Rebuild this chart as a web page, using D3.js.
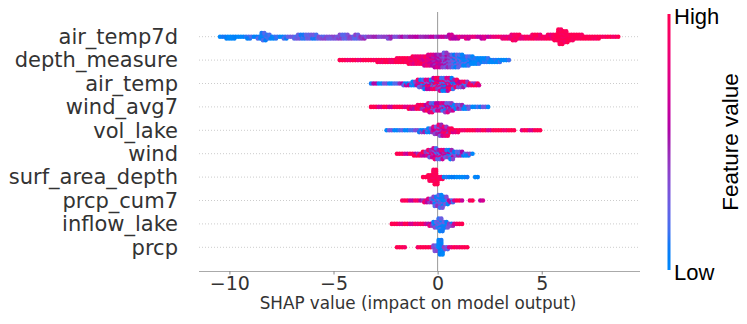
<!DOCTYPE html>
<html>
<head>
<meta charset="utf-8">
<script src="https://cdn.jsdelivr.net/npm/d3@7"></script>
<style>
  body { margin: 0; background: #fff; }
  text { font-family: "DejaVu Sans", sans-serif; }
</style>
</head>
<body>
<svg id="chart"></svg>
<script>
const width = 747;
const height = 324;

// features, top to bottom
const features = ['air_temp7d', 'depth_measure', 'air_temp', 'wind_avg7', 'vol_lake',
  'wind', 'surf_area_depth', 'prcp_cum7', 'inflow_lake', 'prcp'];

// SHAP values are binned in steps of 0.25, first bin of each feature:
const binWidth = 0.25;
const binStart = [-10.5, -4.75, -3.25, -3.25, -2.5, -2.0, -0.75, -1.75, -2.25, -2.0];

const binCounts = [
  [1,2,2,1,1,2,1,2,5,3,2,1,2,1,2,3,3,3,3,2,2,2,2,3,3,2,3,2,1,
   1,1,1,2,1,1,1,1,1,1,1,1,1,
   1,1,3,2,1,2,1,1,2,1,1,1,2,2,4,3,2,2,3,3,2,3,4,9,7,4,3,3,2,2,2,1,1,1,1],
  [1,1,1,1,1,1,1,2,2,2,2,3,3,4,5,5,6,7,8,8,9,8,8,7,6,5,4,3,3,2,2,1,1],
  [1,1,1,1,1,1,2,2,3,5,6,6,7,8,8,7,5,4,3,2,2],
  [1,1,1,1,1,1,1,2,2,3,4,6,5,5,6,5,3,3,2,1,1,1,1],
  [1,1,1,1,1,1,2,2,3,5,7,6,3,2,1,1,1,1,1,1,1,1,1,1,1,0,1,1,1,1],
  [1,1,1,2,2,3,5,7,6,5,6,3,3,2,1],
  [1,4,9,2,1,1,1,1,1,0,1],
  [1,1,1,1,2,3,6,8,5,2,1,1,0,1,0,1],
  [1,1,1,1,1,1,1,2,4,8,4,2,1,1],
  [1,1,0,0,1,1,1,4,9,2,1,1,1,1]
];

// mean feature value in each bin, 0 = low .. 10 = high
const binColors = [
  [0,0,0,0,0,1,1,1,1,1,1,1,1,2,2,2,2,2,2,3,3,3,3,3,3,3,3,4,4,
   4,4,4,4,4,4,5,5,5,5,5,5,5,
   6,6,6,6,7,7,7,7,7,7,8,8,8,8,9,9,9,9,9,9,9,9,10,10,10,10,10,10,10,10,10,10,10,10,10],
  [10,10,10,10,10,10,10,10,10,10,10,10,10,10,9,9,8,7,6,5,4,3,2,1,1,0,0,0,0,0,0,0,0],
  [1,1,1,1,1,1,2,2,3,4,5,5,6,5,5,5,5,5,6,8,9],
  [10,10,10,10,10,9,9,9,8,8,7,6,5,5,4,4,3,2,2,1,1,0,0],
  [0,0,0,1,1,1,1,2,3,5,6,7,8,9,10,10,10,10,10,10,10,10,10,10,10,10,10,10,10,10],
  [10,10,9,9,8,7,6,5,5,4,3,2,2,1,1],
  [10,10,10,9,1,0,0,0,0,0,0],
  [9,8,8,8,7,5,2,1,1,4,9,9,8,8,7,7],
  [10,10,9,9,9,8,8,6,2,1,1,3,9,10],
  [10,10,10,10,10,10,10,3,0,3,8,10,10,10]
];

// how mixed the feature values are inside a bin
const colorSpread = [0.1, 0.15, 0.45, 0.35, 0.3, 0.35, 0.1, 0.25, 0.2, 0.1];

const xTicks = [-10, -5, 0, 5];

const svg = d3.select('#chart')
    .attr('width', width)
    .attr('height', height);

svg.append('rect').attr('width', width).attr('height', height).attr('fill', '#fff');

const x = d3.scaleLinear().domain([-11.46, 9.72]).range([199, 640]);
const y = d3.scalePoint().domain(features).range([36.7, 247.3]);
const axisY = 271;

// blue -> red through purple in LCh, lightness dips in the middle
const color = t => {
  t = Math.max(0, Math.min(1, t));
  const l = t < 0.5 ? 54 - 28 * t : 40 + 28 * (t - 0.5);
  return d3.hcl(266.9 + t * (380.3 - 266.9), 70 + 20 * t, l).formatHex();
};

// dotted guide lines
svg.append('g').selectAll('line')
    .data(features)
    .enter().append('line')
    .attr('x1', x.range()[0]).attr('x2', x.range()[1])
    .attr('y1', d => y(d)).attr('y2', d => y(d))
    .attr('stroke', '#ccc')
    .attr('stroke-width', 1)
    .attr('stroke-dasharray', '1,2');

// zero line
svg.append('line')
    .attr('x1', x(0)).attr('x2', x(0))
    .attr('y1', 12).attr('y2', axisY)
    .attr('stroke', '#999')
    .attr('stroke-width', 1);

// build swarm points from the bins
const dy = 1.8;
const pattern = [0, 1, -0.8, 0.5, -1, 0.2, 0.8, -0.4];
const points = [];
features.forEach((f, i) => {
  binCounts[i].forEach((n, b) => {
    const lo = binStart[i] + b * binWidth;
    for (let k = 0; k < n; k++) {
      const off = k === 0 ? 0 : (k % 2 ? 1 : -1) * Math.ceil(k / 2) * dy;
      const fracs = k % 2 ? [0.45, 0.95] : [0.2, 0.7];
      fracs.forEach((fr, c) => {
        const p = k * 2 + c + b;
        points.push({
          x: x(lo + fr * binWidth),
          y: y(f) + off,
          v: binColors[i][b] / 10 + colorSpread[i] * pattern[p % pattern.length]
        });
      });
    }
  });
});

svg.append('g').selectAll('circle')
    .data(points)
    .enter().append('circle')
    .attr('cx', d => d.x)
    .attr('cy', d => d.y)
    .attr('r', 2.3)
    .attr('fill', d => color(d.v));

// feature labels
svg.append('g').selectAll('text')
    .data(features)
    .enter().append('text')
    .attr('x', 178)
    .attr('y', d => y(d))
    .attr('dy', '0.35em')
    .attr('text-anchor', 'end')
    .style('font-size', '21px')
    .style('fill', '#333')
    .text(d => d);

// x axis
const xAxis = svg.append('g').attr('transform', `translate(0,${axisY})`)
    .call(d3.axisBottom(x).tickValues(xTicks).tickSize(3.5).tickPadding(2.5)
      .tickFormat(d => d < 0 ? '\u2212' + Math.abs(d) : d));
xAxis.select('.domain').attr('stroke', '#aaa').attr('d', `M${x.range()[0]},0.5H${x.range()[1]}`);
xAxis.selectAll('.tick line').attr('stroke', '#888');
xAxis.selectAll('.tick text')
    .style('font-size', '19px')
    .style('font-family', '"DejaVu Sans", sans-serif')
    .style('fill', '#333');

svg.append('text')
    .attr('x', 418)
    .attr('y', 309)
    .attr('text-anchor', 'middle')
    .style('font-size', '16.8px')
    .style('fill', '#333')
    .text('SHAP value (impact on model output)');

// colour bar
const defs = svg.append('defs');
const grad = defs.append('linearGradient')
    .attr('id', 'cbar')
    .attr('x1', 0).attr('y1', 1).attr('x2', 0).attr('y2', 0);
d3.range(0, 1.0001, 0.05).forEach(t => {
  grad.append('stop').attr('offset', t).attr('stop-color', color(t));
});
svg.append('rect')
    .attr('x', 667.5).attr('y', 14)
    .attr('width', 3).attr('height', 256)
    .attr('fill', 'url(#cbar)');

const cbFont = '"Liberation Sans", Arial, sans-serif';
svg.append('text')
    .attr('x', 674).attr('y', 16).attr('dy', '0.35em')
    .style('font-family', cbFont)
    .style('font-size', '22px').style('fill', '#000')
    .text('High');
svg.append('text')
    .attr('x', 674).attr('y', 272).attr('dy', '0.35em')
    .style('font-family', cbFont)
    .style('font-size', '22px').style('fill', '#000')
    .text('Low');
svg.append('text')
    .attr('transform', 'translate(730,142) rotate(-90)')
    .attr('text-anchor', 'middle')
    .attr('dy', '0.35em')
    .style('font-family', cbFont)
    .style('font-size', '22.5px').style('fill', '#000')
    .text('Feature value');
</script>
</body>
</html>
